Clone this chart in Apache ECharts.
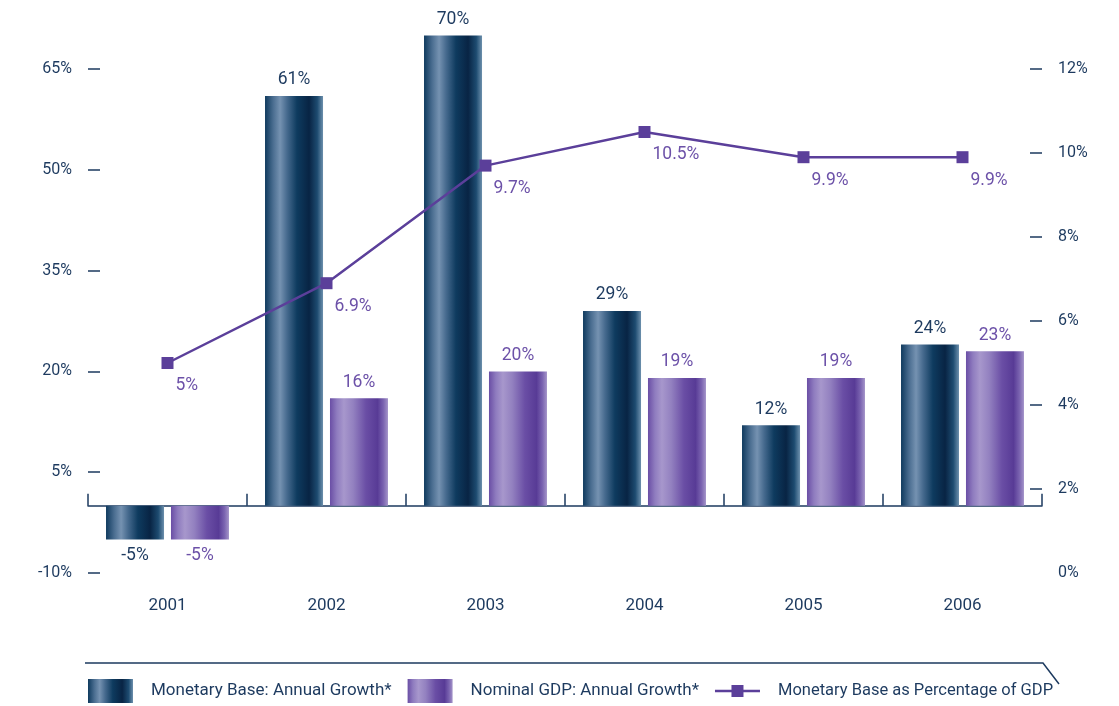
<!DOCTYPE html>
<html>
<head>
<meta charset="utf-8">
<style>
  html, body { margin: 0; padding: 0; background: #ffffff; }
  #chart { width: 1119px; height: 706px; }
</style>
<script src="https://cdn.jsdelivr.net/npm/echarts@6/dist/echarts.min.js"></script>
</head>
<body>
<div id="chart"></div>
<script>
// Categories and series values
const years = ['2001', '2002', '2003', '2004', '2005', '2006'];
const monetaryBaseGrowth = [-5, 61, 70, 29, 12, 24];
const nominalGdpGrowth = [-5, 16, 20, 19, 19, 23];
const monetaryBaseShareOfGdp = [5, 6.9, 9.7, 10.5, 9.9, 9.9];
const rightTickValues = [2, 4, 6, 8, 10, 12];

const NAVY = '#1d3a5f';
const PURPLE = '#5b3f9a';
const LABEL_PURPLE = '#6c51a8';
const FONT = 'Roboto, "Liberation Sans", sans-serif';

// Cylinder-like horizontal shading for the bars
const navyGradient = new echarts.graphic.LinearGradient(0, 0, 1, 0, [
  { offset: 0.00, color: '#0f3a5e' },
  { offset: 0.14, color: '#4a6d90' },
  { offset: 0.26, color: '#7592b1' },
  { offset: 0.38, color: '#466a8e' },
  { offset: 0.55, color: '#0e3b5f' },
  { offset: 0.76, color: '#082444' },
  { offset: 0.90, color: '#1d4b70' },
  { offset: 1.00, color: '#6d90ad' }
]);
const purpleGradient = new echarts.graphic.LinearGradient(0, 0, 1, 0, [
  { offset: 0.00, color: '#6a4ea5' },
  { offset: 0.12, color: '#8f7cbf' },
  { offset: 0.24, color: '#a797cc' },
  { offset: 0.40, color: '#9381c0' },
  { offset: 0.62, color: '#6a4ea5' },
  { offset: 0.82, color: '#583b96' },
  { offset: 0.92, color: '#7a63b0' },
  { offset: 1.00, color: '#a494c9' }
]);

function barData(values) {
  return values.map(v => ({
    value: v,
    label: { position: v < 0 ? 'bottom' : 'top' }
  }));
}

// Legend glyph for the line series: a short stroke with a square in the middle
const lineLegendIcon = 'path://M0,11L45,11L45,13.5L0,13.5Z M16.5,6.3L28.5,6.3L28.5,18.3L16.5,18.3Z';

const chart = echarts.init(document.getElementById('chart'), null, { renderer: 'canvas' });

chart.setOption({
  animation: false,
  backgroundColor: '#ffffff',
  textStyle: { fontFamily: FONT },
  grid: { left: 88, right: 77, top: 69, bottom: 133 },
  legend: {
    left: 88,
    top: 679,
    padding: 0,
    itemWidth: 45,
    itemHeight: 24,
    itemGap: 16,
    selectedMode: false,
    textStyle: { color: NAVY, fontSize: 17, fontFamily: FONT, padding: [0, 0, 0, 13] },
    data: [
      { name: 'Monetary Base: Annual Growth*', icon: 'rect' },
      { name: 'Nominal GDP: Annual Growth*', icon: 'rect' },
      {
        name: 'Monetary Base as Percentage of GDP',
        icon: lineLegendIcon,
        itemStyle: { color: PURPLE },
        textStyle: { fontSize: 16.5 }
      }
    ]
  },
  xAxis: {
    type: 'category',
    data: years,
    boundaryGap: true,
    axisLine: { onZero: true, lineStyle: { color: NAVY, width: 1.5 } },
    axisTick: { show: true, inside: true, length: 12, alignWithLabel: false, lineStyle: { color: NAVY, width: 1.5 } },
    axisLabel: { color: NAVY, fontSize: 17, margin: 24, fontFamily: FONT }
  },
  yAxis: [
    {
      type: 'value',
      min: -10,
      max: 65,
      interval: 15,
      position: 'left',
      splitLine: { show: false },
      axisLine: { show: false },
      axisTick: { show: true, inside: true, length: 12, lineStyle: { color: NAVY, width: 1.5 } },
      axisLabel: { color: NAVY, fontSize: 16, margin: 16, formatter: '{value}%', fontFamily: FONT }
    },
    {
      type: 'value',
      min: 0,
      max: 12,
      interval: 2,
      position: 'right',
      splitLine: { show: false },
      axisLine: { show: false },
      axisTick: { show: true, inside: true, length: 12, customValues: rightTickValues, lineStyle: { color: NAVY, width: 1.5 } },
      axisLabel: { color: NAVY, fontSize: 16, margin: 16, formatter: '{value}%', fontFamily: FONT }
    }
  ],
  series: [
    {
      name: 'Monetary Base: Annual Growth*',
      type: 'bar',
      yAxisIndex: 0,
      barWidth: 58,
      barGap: '12%',
      clip: false,
      data: barData(monetaryBaseGrowth),
      itemStyle: { color: navyGradient },
      label: { show: true, distance: 7, color: NAVY, fontSize: 17.5, fontFamily: FONT, formatter: '{c}%' },
      z: 2
    },
    {
      name: 'Nominal GDP: Annual Growth*',
      type: 'bar',
      yAxisIndex: 0,
      barWidth: 58,
      barGap: '12%',
      clip: false,
      data: barData(nominalGdpGrowth),
      itemStyle: { color: purpleGradient },
      label: { show: true, distance: 7, color: LABEL_PURPLE, fontSize: 17.5, fontFamily: FONT, formatter: '{c}%' },
      z: 2
    },
    {
      name: 'Monetary Base as Percentage of GDP',
      type: 'line',
      yAxisIndex: 1,
      data: monetaryBaseShareOfGdp,
      symbol: 'rect',
      symbolSize: 12,
      lineStyle: { color: PURPLE, width: 2.5 },
      itemStyle: { color: PURPLE },
      label: {
        show: true,
        position: [14, 29],
        align: 'left',
        verticalAlign: 'middle',
        color: LABEL_PURPLE,
        fontSize: 17.5,
        fontFamily: FONT,
        formatter: '{c}%'
      },
      z: 5
    }
  ],
  graphic: [
    {
      type: 'polyline',
      shape: { points: [[85, 663], [1043, 663], [1059, 684]] },
      style: { stroke: NAVY, lineWidth: 1.5, fill: null }
    }
  ]
});
</script>
</body>
</html>
